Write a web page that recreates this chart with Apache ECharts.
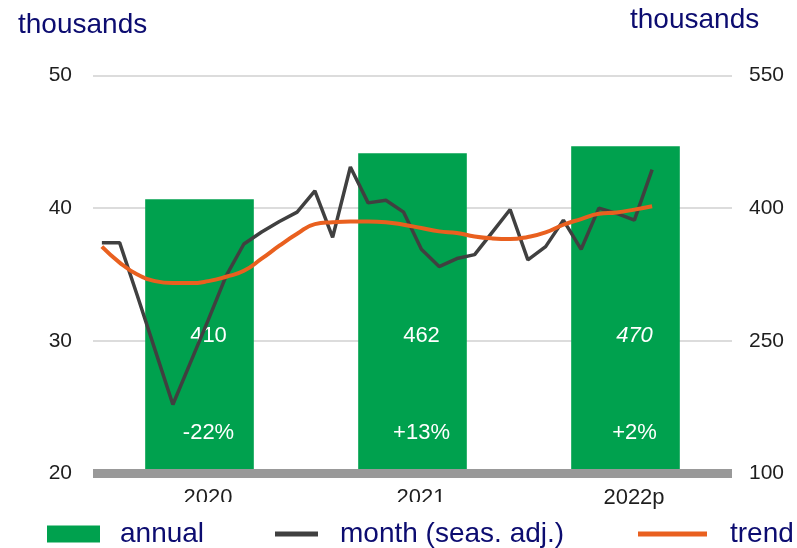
<!DOCTYPE html>
<html>
<head>
<meta charset="utf-8">
<script src="https://cdn.jsdelivr.net/npm/echarts@6/dist/echarts.min.js"></script>
<style>html,body{margin:0;padding:0;background:#fff}#c{width:797px;height:548px}</style>
</head>
<body>
<div id="c"></div>
<script>
const years = ['2020', '2021', '2022p'];
const annual = [410, 462, 470];
const annualChange = ['-22%', '+13%', '+2%'];
const months = ['Jan 2020','Feb 2020','Mar 2020','Apr 2020','May 2020','Jun 2020','Jul 2020','Aug 2020','Sep 2020','Oct 2020','Nov 2020','Dec 2020',
  'Jan 2021','Feb 2021','Mar 2021','Apr 2021','May 2021','Jun 2021','Jul 2021','Aug 2021','Sep 2021','Oct 2021','Nov 2021','Dec 2021',
  'Jan 2022','Feb 2022','Mar 2022','Apr 2022','May 2022','Jun 2022','Jul 2022','Aug 2022','Sep 2022','Oct 2022','Nov 2022','Dec 2022'];
const monthly = [37.4, 37.4, 33.4, 29.3, 25.2, 28.4, 31.6, 34.9, 37.3, 38.2, 39.0, 39.7,
  41.3, 37.8, 43.1, 40.4, 40.6, 39.7, 36.9, 35.6, 36.2, 36.5, 38.2, 39.9,
  36.1, 37.1, 39.1, 36.9, 40.0, 39.6, 39.1, 42.9];
const trend = [37.1, 35.9, 35.0, 34.5, 34.35, 34.35, 34.5, 34.83, 35.28, 36.19, 37.17, 38.07,
  38.8, 38.94, 39.0, 39.0, 38.94, 38.75, 38.5, 38.25, 38.13, 37.87, 37.72, 37.67,
  37.83, 38.17, 38.75, 39.18, 39.58, 39.68, 39.89, 40.14];
const leftTicks = {min: 20, max: 50, interval: 10};
const rightTicks = {min: 100, max: 550, interval: 150};

const FONT = "Arial, 'Liberation Sans', sans-serif";
const NAVY = '#0c0c70';
const AXC = '#1e1e1e';
const GREEN = '#00A14E';
const GRAY = '#404040';
const ORANGE = '#E9601F';

const chart = echarts.init(document.getElementById('c'), null, {renderer: 'canvas'});
chart.setOption({
  animation: false,
  backgroundColor: '#fff',
  textStyle: {fontFamily: FONT},
  title: [
    {text: 'thousands', left: 18, top: 11, padding: 0, textStyle: {fontSize: 28, fontWeight: 'normal', color: NAVY, fontFamily: FONT}},
    {text: 'thousands', left: 630, top: 6, padding: 0, textStyle: {fontSize: 28, fontWeight: 'normal', color: NAVY, fontFamily: FONT}}
  ],
  grid: {left: 93, right: 65, top: 75.5, bottom: 74.5, containLabel: false},
  legend: [
    {data: ['annual'], left: 47, top: 520, padding: 0, icon: 'rect', itemWidth: 53, itemHeight: 17,
     textStyle: {fontSize: 28, color: NAVY, fontFamily: FONT, padding: [0, 0, 10, 15]}},
    {data: ['month (seas. adj.)'], left: 275, top: 520, padding: 0, icon: 'rect', itemWidth: 43, itemHeight: 5,
     textStyle: {fontSize: 28, color: NAVY, fontFamily: FONT, padding: [0, 0, 10, 17]}},
    {data: ['trend'], left: 638, top: 520, padding: 0, icon: 'rect', itemWidth: 69, itemHeight: 5,
     textStyle: {fontSize: 28, color: NAVY, fontFamily: FONT, padding: [0, 0, 10, 18]}}
  ],
  xAxis: [
    {type: 'category', data: years, z: 5,
     axisLine: {show: true, lineStyle: {color: '#999999', width: 9, cap: 'butt'}},
     axisTick: {show: false},
     axisLabel: {fontSize: 22, color: AXC, margin: 13, padding: [0, 0, 0, 17], fontFamily: FONT}},
    {type: 'category', data: months, show: false, boundaryGap: true}
  ],
  yAxis: [
    {type: 'value', min: leftTicks.min, max: leftTicks.max, interval: leftTicks.interval,
     axisLine: {show: false}, axisTick: {show: false},
     axisLabel: {fontSize: 21, color: AXC, margin: 21, fontFamily: FONT},
     splitLine: {show: true, lineStyle: {color: '#dcdcdc', width: 2}}},
    {type: 'value', min: rightTicks.min, max: rightTicks.max, interval: rightTicks.interval,
     position: 'right',
     axisLine: {show: false}, axisTick: {show: false},
     axisLabel: {fontSize: 21, color: AXC, margin: 17, fontFamily: FONT},
     splitLine: {show: false}}
  ],
  series: [
    {name: 'annual', type: 'bar', xAxisIndex: 0, yAxisIndex: 1, barCategoryGap: '49%',
     itemStyle: {color: GREEN},
     data: annual.map((v, i) => ({value: v, label: {fontStyle: i === 2 ? 'italic' : 'normal'}})),
     label: {show: true, position: 'insideBottom', distance: 127, offset: [9, 0], color: '#fff', fontSize: 22, fontFamily: FONT}},
    {name: 'annualChange', type: 'bar', xAxisIndex: 0, yAxisIndex: 1, barCategoryGap: '49%', barGap: '-100%',
     itemStyle: {color: 'rgba(0,0,0,0)'}, silent: true,
     data: annual,
     label: {show: true, position: 'insideBottom', distance: 30, offset: [9, 0], color: '#fff', fontSize: 22, fontFamily: FONT,
             formatter: p => annualChange[p.dataIndex]}},
    {name: 'month (seas. adj.)', type: 'line', xAxisIndex: 1, yAxisIndex: 0, data: monthly,
     symbol: 'none', lineStyle: {color: GRAY, width: 3.5}, itemStyle: {color: GRAY}, z: 3},
    {name: 'trend', type: 'line', xAxisIndex: 1, yAxisIndex: 0, data: trend, smooth: true,
     symbol: 'none', lineStyle: {color: ORANGE, width: 4}, itemStyle: {color: ORANGE}, z: 4}
  ],
  graphic: [
    {type: 'rect', shape: {x: 93, y: 502, width: 460, height: 14}, style: {fill: '#fff'}, z: 100, silent: true}
  ]
});
</script>
</body>
</html>
